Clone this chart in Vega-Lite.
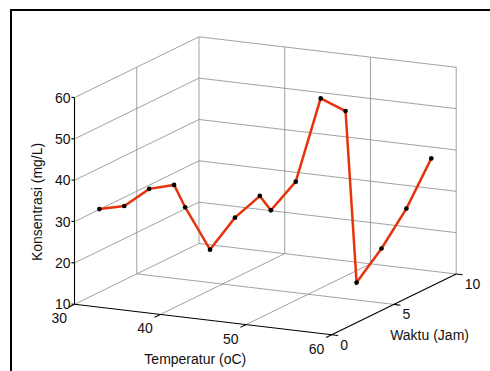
{
  "$schema": "https://vega.github.io/schema/vega-lite/v6.json",
  "autosize": "none",
  "padding": {"left": 11, "top": 10, "right": 0, "bottom": 0},
  "width": 485,
  "height": 367,
  "config": {
    "view": {"stroke": "#000", "strokeWidth": 2},
    "text": {"font": "Liberation Sans", "fontSize": 14, "color": "#111"}
  },
  "data": {
    "values": [
      {"jenis": "data", "Temperatur": 30, "Waktu": 2, "Konsentrasi": 30.1},
      {"jenis": "data", "Temperatur": 30, "Waktu": 4, "Konsentrasi": 27.9},
      {"jenis": "data", "Temperatur": 30, "Waktu": 6, "Konsentrasi": 29.1},
      {"jenis": "data", "Temperatur": 30, "Waktu": 8, "Konsentrasi": 27.1},
      {"jenis": "data", "Temperatur": 40, "Waktu": 2, "Konsentrasi": 33.0},
      {"jenis": "data", "Temperatur": 40, "Waktu": 4, "Konsentrasi": 19.8},
      {"jenis": "data", "Temperatur": 40, "Waktu": 6, "Konsentrasi": 24.6},
      {"jenis": "data", "Temperatur": 40, "Waktu": 8, "Konsentrasi": 26.9},
      {"jenis": "data", "Temperatur": 50, "Waktu": 2, "Konsentrasi": 34.7},
      {"jenis": "data", "Temperatur": 50, "Waktu": 4, "Konsentrasi": 38.7},
      {"jenis": "data", "Temperatur": 50, "Waktu": 6, "Konsentrasi": 55.9},
      {"jenis": "data", "Temperatur": 50, "Waktu": 8, "Konsentrasi": 49.9},
      {"jenis": "data", "Temperatur": 60, "Waktu": 2, "Konsentrasi": 19.7},
      {"jenis": "data", "Temperatur": 60, "Waktu": 4, "Konsentrasi": 25.0},
      {"jenis": "data", "Temperatur": 60, "Waktu": 6, "Konsentrasi": 31.7},
      {"jenis": "data", "Temperatur": 60, "Waktu": 8, "Konsentrasi": 40.9},

      {"jenis": "grid", "Temperatur": 30, "Waktu": 0, "Konsentrasi": 10, "Temperatur2": 30, "Waktu2": 10, "Konsentrasi2": 10},
      {"jenis": "grid", "Temperatur": 30, "Waktu": 0, "Konsentrasi": 20, "Temperatur2": 30, "Waktu2": 10, "Konsentrasi2": 20},
      {"jenis": "grid", "Temperatur": 30, "Waktu": 0, "Konsentrasi": 30, "Temperatur2": 30, "Waktu2": 10, "Konsentrasi2": 30},
      {"jenis": "grid", "Temperatur": 30, "Waktu": 0, "Konsentrasi": 40, "Temperatur2": 30, "Waktu2": 10, "Konsentrasi2": 40},
      {"jenis": "grid", "Temperatur": 30, "Waktu": 0, "Konsentrasi": 50, "Temperatur2": 30, "Waktu2": 10, "Konsentrasi2": 50},
      {"jenis": "grid", "Temperatur": 30, "Waktu": 0, "Konsentrasi": 60, "Temperatur2": 30, "Waktu2": 10, "Konsentrasi2": 60},
      {"jenis": "grid", "Temperatur": 30, "Waktu": 5, "Konsentrasi": 10, "Temperatur2": 30, "Waktu2": 5, "Konsentrasi2": 60},
      {"jenis": "grid", "Temperatur": 30, "Waktu": 10, "Konsentrasi": 10, "Temperatur2": 30, "Waktu2": 10, "Konsentrasi2": 60},
      {"jenis": "grid", "Temperatur": 30, "Waktu": 10, "Konsentrasi": 10, "Temperatur2": 60, "Waktu2": 10, "Konsentrasi2": 10},
      {"jenis": "grid", "Temperatur": 30, "Waktu": 10, "Konsentrasi": 20, "Temperatur2": 60, "Waktu2": 10, "Konsentrasi2": 20},
      {"jenis": "grid", "Temperatur": 30, "Waktu": 10, "Konsentrasi": 30, "Temperatur2": 60, "Waktu2": 10, "Konsentrasi2": 30},
      {"jenis": "grid", "Temperatur": 30, "Waktu": 10, "Konsentrasi": 40, "Temperatur2": 60, "Waktu2": 10, "Konsentrasi2": 40},
      {"jenis": "grid", "Temperatur": 30, "Waktu": 10, "Konsentrasi": 50, "Temperatur2": 60, "Waktu2": 10, "Konsentrasi2": 50},
      {"jenis": "grid", "Temperatur": 30, "Waktu": 10, "Konsentrasi": 60, "Temperatur2": 60, "Waktu2": 10, "Konsentrasi2": 60},
      {"jenis": "grid", "Temperatur": 40, "Waktu": 10, "Konsentrasi": 10, "Temperatur2": 40, "Waktu2": 10, "Konsentrasi2": 60},
      {"jenis": "grid", "Temperatur": 50, "Waktu": 10, "Konsentrasi": 10, "Temperatur2": 50, "Waktu2": 10, "Konsentrasi2": 60},
      {"jenis": "grid", "Temperatur": 60, "Waktu": 10, "Konsentrasi": 10, "Temperatur2": 60, "Waktu2": 10, "Konsentrasi2": 60},
      {"jenis": "grid", "Temperatur": 40, "Waktu": 0, "Konsentrasi": 10, "Temperatur2": 40, "Waktu2": 10, "Konsentrasi2": 10},
      {"jenis": "grid", "Temperatur": 50, "Waktu": 0, "Konsentrasi": 10, "Temperatur2": 50, "Waktu2": 10, "Konsentrasi2": 10},
      {"jenis": "grid", "Temperatur": 30, "Waktu": 5, "Konsentrasi": 10, "Temperatur2": 60, "Waktu2": 5, "Konsentrasi2": 10},

      {"jenis": "sumbu", "Temperatur": 30, "Waktu": 0, "Konsentrasi": 10, "Temperatur2": 30, "Waktu2": 0, "Konsentrasi2": 60},
      {"jenis": "sumbu", "Temperatur": 30, "Waktu": 0, "Konsentrasi": 10, "Temperatur2": 60, "Waktu2": 0, "Konsentrasi2": 10},
      {"jenis": "sumbu", "Temperatur": 60, "Waktu": 0, "Konsentrasi": 10, "Temperatur2": 60, "Waktu2": 10, "Konsentrasi2": 10},

      {"jenis": "tickZ", "Temperatur": 30, "Waktu": 0, "Konsentrasi": 10},
      {"jenis": "tickZ", "Temperatur": 30, "Waktu": 0, "Konsentrasi": 20},
      {"jenis": "tickZ", "Temperatur": 30, "Waktu": 0, "Konsentrasi": 30},
      {"jenis": "tickZ", "Temperatur": 30, "Waktu": 0, "Konsentrasi": 40},
      {"jenis": "tickZ", "Temperatur": 30, "Waktu": 0, "Konsentrasi": 50},
      {"jenis": "tickZ", "Temperatur": 30, "Waktu": 0, "Konsentrasi": 60},
      {"jenis": "tickT", "Temperatur": 30, "Waktu": 0, "Konsentrasi": 10},
      {"jenis": "tickT", "Temperatur": 40, "Waktu": 0, "Konsentrasi": 10},
      {"jenis": "tickT", "Temperatur": 50, "Waktu": 0, "Konsentrasi": 10},
      {"jenis": "tickT", "Temperatur": 60, "Waktu": 0, "Konsentrasi": 10},
      {"jenis": "tickW", "Temperatur": 60, "Waktu": 0, "Konsentrasi": 10},
      {"jenis": "tickW", "Temperatur": 60, "Waktu": 5, "Konsentrasi": 10},
      {"jenis": "tickW", "Temperatur": 60, "Waktu": 10, "Konsentrasi": 10},

      {"jenis": "judulT", "Temperatur": 45, "Waktu": 0, "Konsentrasi": 10, "teks": "Temperatur (oC)"},
      {"jenis": "judulW", "Temperatur": 60, "Waktu": 5, "Konsentrasi": 10, "teks": "Waktu (Jam)"},
      {"jenis": "judulZ", "Temperatur": 30, "Waktu": 0, "Konsentrasi": 35, "teks": "Konsentrasi (mg/L)"}
    ]
  },
  "transform": [
    {"calculate": "datum.jenis === 'tickZ' ? datum.Temperatur - 0.35 : datum.jenis === 'tickW' ? datum.Temperatur + 0.75 : datum.jenis === 'tickT' ? datum.Temperatur : datum.Temperatur2", "as": "Te"},
    {"calculate": "datum.jenis === 'tickT' ? datum.Waktu - 0.45 : (datum.jenis === 'tickZ' || datum.jenis === 'tickW') ? datum.Waktu : datum.Waktu2", "as": "We"},
    {"calculate": "indexof(['tickZ', 'tickT', 'tickW'], datum.jenis) >= 0 ? datum.Konsentrasi : datum.Konsentrasi2", "as": "Ze"},
    {"calculate": "8.573 * (datum.Temperatur - 30) + 12.45 * datum.Waktu", "as": "px"},
    {"calculate": "-1.017 * (datum.Temperatur - 30) + 6.08 * datum.Waktu + 4.134 * (datum.Konsentrasi - 10)", "as": "py"},
    {"calculate": "8.573 * (datum.Te - 30) + 12.45 * datum.We", "as": "px2"},
    {"calculate": "-1.017 * (datum.Te - 30) + 6.08 * datum.We + 4.134 * (datum.Ze - 10)", "as": "py2"}
  ],
  "encoding": {
    "x": {"field": "px", "type": "quantitative", "axis": null, "scale": {"domain": [-63.5, 421.5], "nice": false, "zero": false}},
    "y": {"field": "py", "type": "quantitative", "axis": null, "scale": {"domain": [-72.7, 294.3], "nice": false, "zero": false}}
  },
  "layer": [
    {
      "transform": [{"filter": "datum.jenis === 'grid'"}],
      "mark": {"type": "rule", "color": "#8a8a8a", "strokeWidth": 0.8},
      "encoding": {"x2": {"field": "px2"}, "y2": {"field": "py2"}}
    },
    {
      "transform": [{"filter": "datum.jenis === 'sumbu' || indexof(['tickZ', 'tickT', 'tickW'], datum.jenis) >= 0"}],
      "mark": {"type": "rule", "color": "#000", "strokeWidth": 1.1},
      "encoding": {"x2": {"field": "px2"}, "y2": {"field": "py2"}}
    },
    {
      "transform": [{"filter": "datum.jenis === 'data'"}],
      "mark": {"type": "line", "color": "#e5340b", "strokeWidth": 2.5},
      "encoding": {"order": {"value": null}}
    },
    {
      "transform": [{"filter": "datum.jenis === 'data'"}],
      "mark": {"type": "circle", "color": "#000", "size": 22, "opacity": 1}
    },
    {
      "transform": [{"filter": "datum.jenis === 'tickZ'"}],
      "mark": {"type": "text", "align": "right", "baseline": "middle", "dx": -4, "dy": 1},
      "encoding": {"text": {"field": "Konsentrasi", "type": "quantitative"}}
    },
    {
      "transform": [{"filter": "datum.jenis === 'tickT'"}],
      "mark": {"type": "text", "align": "center", "baseline": "middle", "dx": -15.2, "dy": 15},
      "encoding": {"text": {"field": "Temperatur", "type": "quantitative"}}
    },
    {
      "transform": [{"filter": "datum.jenis === 'tickW'"}],
      "mark": {"type": "text", "align": "left", "baseline": "middle", "dx": 8.5, "dy": 10.8},
      "encoding": {"text": {"field": "Waktu", "type": "quantitative"}}
    },
    {
      "transform": [{"filter": "datum.jenis === 'judulT'"}],
      "mark": {"type": "text", "align": "center", "baseline": "middle", "dx": -7.8, "dy": 40.5},
      "encoding": {"text": {"field": "teks"}}
    },
    {
      "transform": [{"filter": "datum.jenis === 'judulW'"}],
      "mark": {"type": "text", "align": "center", "baseline": "middle", "dx": 35.6, "dy": 31.8},
      "encoding": {"text": {"field": "teks"}}
    },
    {
      "transform": [{"filter": "datum.jenis === 'judulZ'"}],
      "mark": {"type": "text", "align": "center", "baseline": "middle", "angle": 270, "dx": -1, "dy": -36.5},
      "encoding": {"text": {"field": "teks"}}
    }
  ]
}
